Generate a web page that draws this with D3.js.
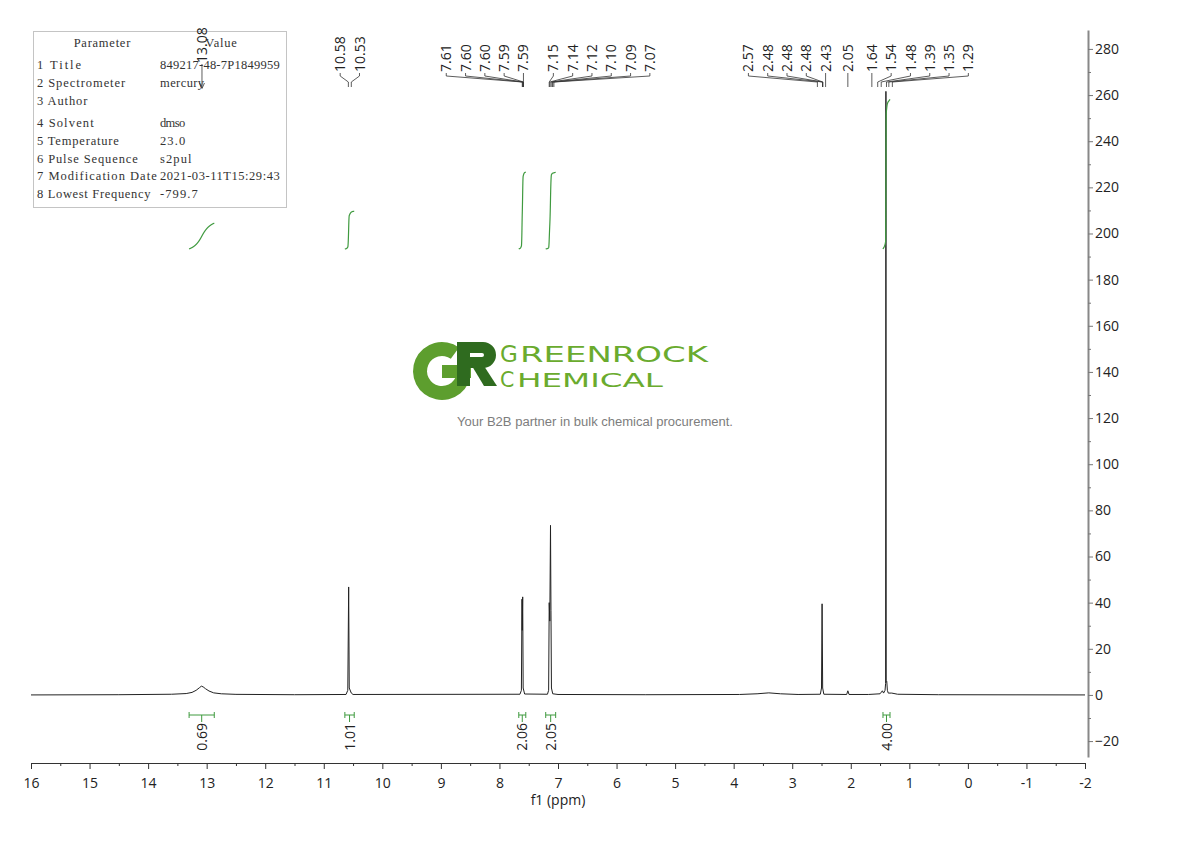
<!DOCTYPE html>
<html><head><meta charset="utf-8">
<script src="https://cdn.jsdelivr.net/npm/d3@7"></script>
<style>body{margin:0;background:#fff;} svg{display:block;}</style>
</head><body><svg id="c" width="1190" height="841"></svg>
<script>
// ---------------- DATA ----------------
// spectrum points: [ppm, intensity]
const spectrum = [
  [16.0,0],[14.5,0.1],[13.6,0.3],[13.35,0.6],[13.25,1.1],[13.18,2.0],[13.12,3.2],[13.09,3.8],[13.06,3.5],[13.02,2.7],[12.96,1.7],[12.88,0.9],[12.75,0.5],[12.5,0.25],[11.5,0.1],
  [10.62,0.2],[10.59,2],[10.575,46.8],[10.565,3],[10.53,0.8],[10.50,0.2],
  [7.65,0.3],[7.625,2],[7.615,41.5],[7.61,28],[7.603,42.5],[7.595,3],[7.57,0.4],
  [7.18,0.3],[7.16,2],[7.15,40],[7.14,32],[7.128,73.5],[7.12,36.5],[7.112,3],[7.09,0.5],[7.0,0.2],
  [5.5,0.1],[3.9,0.2],[3.6,0.5],[3.4,0.9],[3.2,0.5],[2.9,0.2],
  [2.52,0.3],[2.50,3],[2.49,39.5],[2.48,3],[2.46,0.3],
  [2.07,0.2],[2.05,1.8],[2.03,0.2],
  [1.70,0.2],[1.50,0.5],[1.46,1.8],[1.44,0.8],[1.415,2],[1.405,5],[1.40,261.6],[1.395,5.5],[1.385,5.8],[1.375,2],[1.36,0.8],[1.30,0.8],[1.2,0.3],[0.5,0.1],[-2,0]
];
const labelGroups = [
  ["13.08"],
  ["10.58","10.53"],
  ["7.61","7.60","7.60","7.59","7.59"],
  ["7.15","7.14","7.12","7.10","7.09","7.07"],
  ["2.57","2.48","2.48","2.48","2.43"],
  ["2.05"],
  ["1.64","1.54","1.48","1.39","1.35","1.29"]
];
const arrowedLabels = ["13.08"];
const integralFrom   = [13.30, 10.64, 7.67, 7.21, 1.45];
const integralTo     = [12.87, 10.48, 7.55, 7.04, 1.33];
const integralValues = [0.69, 1.01, 2.06, 2.05, 4.00];
const xTickValues = [16,15,14,13,12,11,10,9,8,7,6,5,4,3,2,1,0,-1,-2];
const yTickValues = [-20,0,20,40,60,80,100,120,140,160,180,200,220,240,260,280];
const paramNames  = ["1 Title","2 Spectrometer","3 Author","4 Solvent","5 Temperature","6 Pulse Sequence","7 Modification Date","8 Lowest Frequency"];
const paramValues = ["849217-48-7P1849959","mercury","","dmso","23.0","s2pul","2021-03-11T15:29:43","-799.7"];

// ---------------- LAYOUT ----------------
const svg = d3.select("#c");
const x = d3.scaleLinear().domain([16,-2]).range([31,1085]);
const y = d3.scaleLinear().domain([-26.9,288.2]).range([757,30]);
const FONT = "'Open Sans', 'Noto Sans', sans-serif";
const GREEN = "#3f9a3f";

// ---- watermark ----
const wm = svg.append("g");
const gArc = d3.arc().innerRadius(15).outerRadius(29).startAngle(Math.PI/2).endAngle(2*Math.PI + Math.PI/5);
wm.append("path").attr("d", gArc()).attr("transform","translate(442,371)").attr("fill","#5d9e2e");
wm.append("rect").attr("x",442).attr("y",365).attr("width",29).attr("height",13).attr("fill","#5d9e2e");
const rCol = "#2f6b1f";
wm.append("rect").attr("x",457).attr("y",342).attr("width",13).attr("height",44).attr("fill",rCol);
wm.append("path").attr("d","M470,342 L483,342 A13,13 0 0 1 483,368 L470,368 L470,357 L482,357 A2,2 0 0 0 482,353 L470,353 Z").attr("fill",rCol);
wm.append("path").attr("d","M472,366 L484,366 L497,386 L484,386 Z").attr("fill",rCol);
const logoText = wm.append("text").attr("fill","#6aab2e").attr("font-family","'DejaVu Sans', sans-serif");
logoText.append("tspan").attr("x",500).attr("y",362).attr("font-size",23).text("G");
logoText.append("tspan").attr("x",520).attr("y",362).attr("font-size",20.5)
  .attr("textLength",188).attr("lengthAdjust","spacingAndGlyphs").text("REENROCK");
logoText.append("tspan").attr("x",500).attr("y",387).attr("font-size",20.5).text("C");
logoText.append("tspan").attr("x",517).attr("y",387).attr("font-size",20)
  .attr("textLength",146).attr("lengthAdjust","spacingAndGlyphs").text("HEMICAL");
wm.append("text").attr("x",457).attr("y",426).attr("fill","#7d7d7d")
  .attr("font-family","'Liberation Sans', Arial, sans-serif").attr("font-size",12.5)
  .attr("textLength",276).attr("lengthAdjust","spacingAndGlyphs")
  .text("Your B2B partner in bulk chemical procurement.");

// ---- parameter table ----
const tbl = svg.append("g");
tbl.append("rect").attr("x",33.5).attr("y",31.5).attr("width",253).attr("height",176)
  .attr("fill","#fff").attr("stroke","#c4c4c4");
const SERIF = "'Liberation Serif', 'DejaVu Serif', serif";
function cell(str, xx, yy, anchor) {
  if (!str) return;
  tbl.append("text").attr("x",xx).attr("y",yy).attr("font-family",SERIF).attr("font-size",12.5)
    .attr("fill","#333").attr("text-anchor",anchor||"start")
    .attr("textLength",str.length*6.3).attr("lengthAdjust","spacing").text(str);
}
cell("Parameter",102,47,"middle");
cell("Value",221,47,"middle");
const rowY = [69,87,105,127,145,163,180,198];
paramNames.forEach((p,i)=>{ cell(p,37,rowY[i]); cell(paramValues[i],160,rowY[i]); });

// ---- spectrum ----
const line = d3.line().x(d=>x(d[0])).y(d=>y(d[1]));
svg.append("path").datum(spectrum).attr("d",line).attr("fill","none")
  .attr("stroke","#222").attr("stroke-width",1);

// ---- integral curves & bars ----
function interp(p){
  for (let i=0;i<spectrum.length-1;i++){
    const [p0,v0]=spectrum[i],[p1,v1]=spectrum[i+1];
    if (p<=p0 && p>=p1) return v0+(v1-v0)*(p0-p)/(p0-p1);
  }
  return 0;
}
const INT_BASE = 193.3, INT_SCALE = 16.2;
integralValues.forEach((val,i)=>{
  const a = integralFrom[i], b = integralTo[i], N = 400;
  let cum = 0; const pts = [[a,0]];
  let prev = interp(a);
  for (let k=1;k<=N;k++){
    const p = a + (b-a)*k/N; const v = interp(p);
    cum += (prev+v)/2; prev = v; pts.push([p,cum]);
  }
  const curve = pts.map(d=>[d[0], INT_BASE + d[1]/cum*val*INT_SCALE]);
  svg.append("path").datum(curve).attr("d",line).attr("fill","none")
    .attr("stroke",GREEN).attr("stroke-width",1.2);
  // bar
  const x0 = x(a), x1 = x(b), xc = (x0+x1)/2, by = 715;
  const g = svg.append("g").attr("stroke",GREEN).attr("stroke-width",1);
  g.append("line").attr("x1",x0).attr("x2",x1).attr("y1",by).attr("y2",by);
  g.append("line").attr("x1",x0).attr("x2",x0).attr("y1",by-3).attr("y2",by+3);
  g.append("line").attr("x1",x1).attr("x2",x1).attr("y1",by-3).attr("y2",by+3);
  g.append("line").attr("x1",xc).attr("x2",xc).attr("y1",by).attr("y2",by+7);
  svg.append("text").attr("transform",`translate(${xc},${by+8}) rotate(-90)`)
    .attr("text-anchor","end").attr("dy","0.36em").attr("font-family",FONT).attr("font-size",14)
    .attr("fill","#222").text(val.toFixed(2));
});

// ---- peak labels ----
const GAP = 19.3;
const groupsPx = labelGroups.map(g=>g.map(s=>x(+s)));
const lab = svg.append("g");
let lastPos = -Infinity;
labelGroups.forEach((g,gi)=>{
  const t = groupsPx[gi], n = g.length;
  let pos;
  if (n===1) pos=[t[0]];
  else {
    const L = gi>0 ? t[0]-d3.max(groupsPx[gi-1]) : Infinity;
    const R = gi<labelGroups.length-1 ? d3.min(groupsPx[gi+1])-t[n-1] : Infinity;
    if (Math.min(L,R)>100){ const c=d3.mean(t); pos=t.map((_,i)=>c+(i-(n-1)/2)*GAP); }
    else if (R<L) pos=t.map((_,i)=>t[n-1]-(n-1-i)*GAP);
    else { const start = Math.max(t[0], lastPos + 1.55*GAP); pos=t.map((_,i)=>start+i*GAP); }
  }
  lastPos = n>1 ? pos[n-1] : -Infinity;
  g.forEach((s,i)=>{
    const arrowed = arrowedLabels.includes(s);
    const ty = arrowed ? 63 : 72;
    lab.append("text").attr("transform",`translate(${pos[i]},${ty}) rotate(-90)`)
      .attr("dy","0.36em").attr("font-family",FONT).attr("font-size",14).attr("fill","#222").text(s);
    let d;
    if (arrowed) d = `M${t[i]},${ty+1} L${t[i]},88`;
    else if (n===1) d = `M${t[i]},${ty+1} L${t[i]},87`;
    else d = `M${pos[i]},${ty+1} L${pos[i]},76 L${t[i]},82 L${t[i]},87`;
    lab.append("path").attr("d",d).attr("fill","none").attr("stroke","#333").attr("stroke-width",0.8);
    if (arrowed) lab.append("path").attr("d",`M${t[i]-2.5},83 L${t[i]},88.5 L${t[i]+2.5},83`)
      .attr("fill","none").attr("stroke","#333").attr("stroke-width",0.8);
  });
});

// ---- axes ----
const xAxis = d3.axisBottom(x).tickValues(xTickValues).tickSize(6).tickPadding(9).tickSizeOuter(0).tickFormat(d=>String(d));
const gx = svg.append("g").attr("transform","translate(0,763)").call(xAxis);
gx.select(".domain").attr("stroke","#333");
gx.selectAll(".tick line").attr("stroke","#333");
gx.selectAll("text").attr("font-family",FONT).attr("font-size",14).attr("fill","#222");
const gxm = svg.append("g").attr("transform","translate(0,763)")
  .call(d3.axisBottom(x).tickValues(d3.range(15.5,-2,-1)).tickSize(3).tickFormat("").tickSizeOuter(0));
gxm.select(".domain").remove(); gxm.selectAll(".tick line").attr("stroke","#333");
svg.append("text").attr("x",558).attr("y",805).attr("text-anchor","middle")
  .attr("font-family",FONT).attr("font-size",14).attr("fill","#222").text("f1 (ppm)");

const yAxis = d3.axisRight(y).tickValues(yTickValues).tickSize(5).tickPadding(2).tickSizeOuter(0);
const gy = svg.append("g").attr("transform","translate(1088,0)").call(yAxis);
gy.select(".domain").attr("stroke","#888").attr("stroke-width",2);
gy.selectAll(".tick line").attr("stroke","#777");
gy.selectAll("text").attr("font-family",FONT).attr("font-size",14).attr("fill","#222");
const gym = svg.append("g").attr("transform","translate(1088,0)")
  .call(d3.axisRight(y).tickValues(d3.range(-10,280,20)).tickSize(3).tickFormat("").tickSizeOuter(0));
gym.select(".domain").remove(); gym.selectAll(".tick line").attr("stroke","#777");
</script></body></html>
